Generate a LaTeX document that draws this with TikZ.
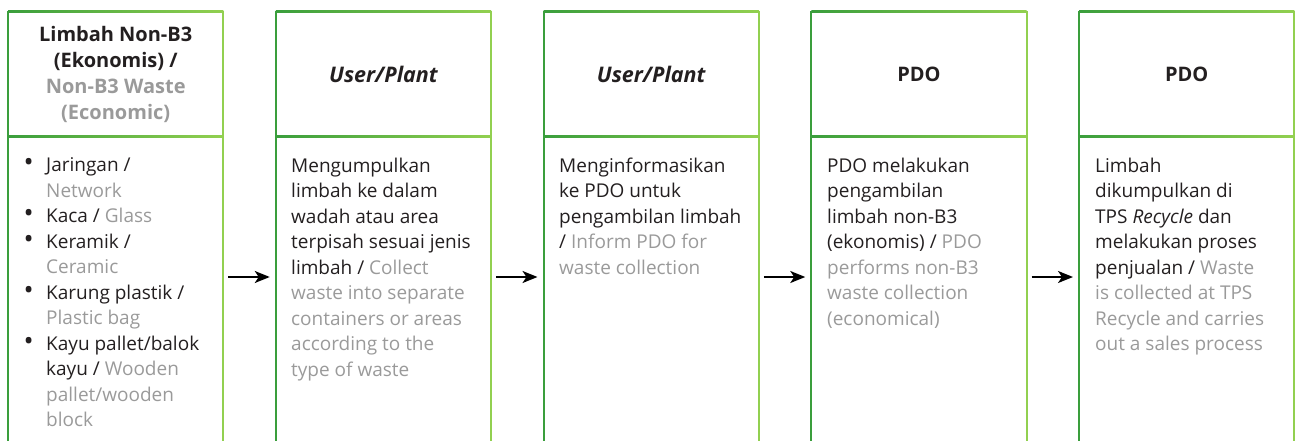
\documentclass[tikz,border=0pt]{standalone}
\usepackage{fontspec}
\setmainfont{Open Sans}
\usetikzlibrary{arrows.meta,positioning}

\definecolor{dkgreen}{HTML}{3A9E3C}
\definecolor{ltgreen}{HTML}{92D050}
\definecolor{engray}{HTML}{9A9A9A}
\definecolor{txt}{HTML}{231F20}
\newcommand{\en}[1]{\textcolor{engray}{#1}}
\newcommand{\bul}{\llap{{\fontsize{27}{0}\selectfont\textbullet}\hspace{12.5pt}}}

\tikzset{
  col/.style={minimum width=215pt, minimum height=429pt, anchor=north west, inner sep=0pt},
  head/.style={minimum width=215pt, minimum height=124pt, anchor=north west, inner sep=0pt,
    align=center, text=txt, font=\fontsize{20}{26}\selectfont\bfseries},
  body/.style={anchor=north west, inner sep=0pt, align=left, text=txt,
    font=\fontsize{19}{25.5}\selectfont},
  flow/.style={line width=2pt, -{Stealth[length=15pt,width=12pt,inset=4pt]},
    shorten <=5pt, shorten >=6pt},
}

\begin{document}
\begin{tikzpicture}[x=1pt,y=1pt]
  \useasboundingbox (0,0) rectangle (1298,-441);

  % columns
  \node[col] (c1) at (8,-12) {};
  \node[col] (c2) at (275.75,-12) {};
  \node[col] (c3) at (543.5,-12) {};
  \node[col] (c4) at (811.25,-12) {};
  \node[col] (c5) at (1079,-12) {};

  % headers
  \node[head] (h1) at (c1.north west) {Limbah Non-B3\\(Ekonomis) /\\\en{Non-B3 Waste}\\\en{(Economic)}};
  \node[head, font=\fontsize{21.5}{26}\selectfont\bfseries\itshape] (h2) at (c2.north west) {User/Plant};
  \node[head, font=\fontsize{21.5}{26}\selectfont\bfseries\itshape] (h3) at (c3.north west) {User/Plant};
  \node[head] (h4) at (c4.north west) {PDO};
  \node[head] (h5) at (c5.north west) {PDO};

  % frames
  \foreach \i in {1,...,5} {
    \shade[left color=dkgreen, right color=ltgreen] ([yshift=1pt]c\i.north west) rectangle ([yshift=-1pt]c\i.north east);
    \shade[left color=dkgreen, right color=ltgreen] ([yshift=1pt]h\i.south west) rectangle ([yshift=-1pt]h\i.south east);
    \draw[dkgreen, line width=2pt] ([yshift=1pt]c\i.north west) -- (c\i.south west);
    \draw[ltgreen, line width=2pt] ([yshift=1pt]c\i.north east) -- (c\i.south east);
  }

  % bodies
  \node[body] (b1) at (46,-157.5) {\bul Jaringan /\\\en{Network}\\\bul Kaca / \en{Glass}\\\bul Keramik /\\\en{Ceramic}\\\bul Karung plastik /\\\en{Plastic bag}\\\bul Kayu pallet/balok\\kayu / \en{Wooden}\\\en{pallet/wooden}\\\en{block}};
  \node[body] (b2) at (291,-157.5) {Mengumpulkan\\limbah ke dalam\\wadah atau area\\terpisah sesuai jenis\\limbah / \en{Collect}\\\en{waste into separate}\\\en{containers or areas}\\\en{according to the}\\\en{type of waste}};
  \node[body] (b3) at (559,-157.5) {Menginformasikan\\ke PDO untuk\\pengambilan limbah\\/ \en{Inform PDO for}\\\en{waste collection}};
  \node[body] (b4) at (827,-157.5) {PDO melakukan\\pengambilan\\limbah non-B3\\(ekonomis) / \en{PDO}\\\en{performs non-B3}\\\en{waste collection}\\\en{(economical)}};
  \node[body] (b5) at (1095,-157.5) {Limbah\\dikumpulkan di\\TPS \textit{Recycle} dan\\melakukan proses\\penjualan / \en{Waste}\\\en{is collected at TPS}\\\en{Recycle and carries}\\\en{out a sales process}};

  % arrows
  \coordinate (ay) at (0,-277);
  \draw[flow] (c1.east |- ay) -- (c2.west |- ay);
  \draw[flow] (c2.east |- ay) -- (c3.west |- ay);
  \draw[flow] (c3.east |- ay) -- (c4.west |- ay);
  \draw[flow] (c4.east |- ay) -- (c5.west |- ay);
\end{tikzpicture}
\end{document}
